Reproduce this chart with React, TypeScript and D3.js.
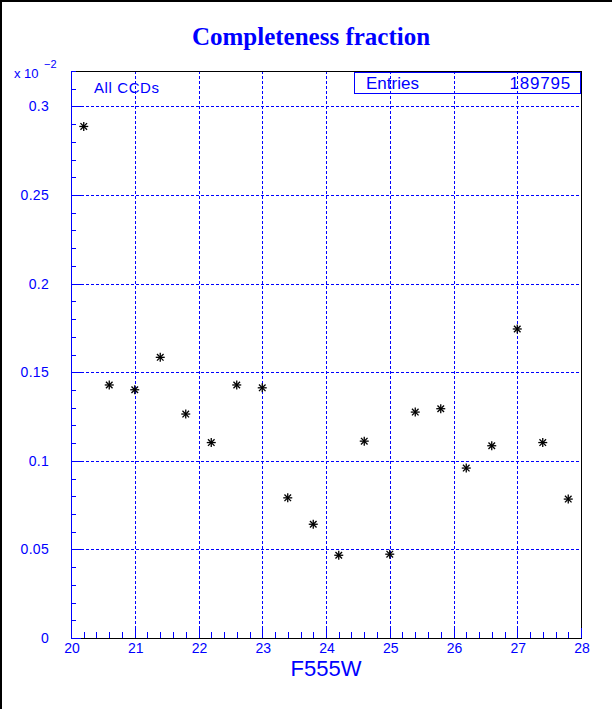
import * as d3 from "d3";

// bin centres (F555W magnitude) and completeness fraction (x 10^-2)
const binCenters = [20.2, 20.6, 21.0, 21.4, 21.8, 22.2, 22.6, 23.0, 23.4, 23.8, 24.2, 24.6, 25.0, 25.4, 25.8, 26.2, 26.6, 27.0, 27.4, 27.8];
const fraction = [0.2887, 0.1428, 0.1401, 0.1584, 0.1264, 0.1103, 0.1428, 0.1412, 0.0791, 0.0642, 0.0467, 0.1111, 0.0473, 0.1275, 0.1294, 0.0959, 0.1085, 0.1744, 0.1103, 0.0784];

const xTicks = [20, 21, 22, 23, 24, 25, 26, 27, 28];
const yTicks = [0, 0.05, 0.1, 0.15, 0.2, 0.25, 0.3];
const yTickLabels = ["0", "0.05", "0.1", "0.15", "0.2", "0.25", "0.3"];

const W = 612;
const H = 709;
const blue = "#0000ff";
const font = "'Liberation Sans', Arial, sans-serif";

export default function App() {
  const x = d3.scaleLinear().domain([20, 28]).range([71, 581]);
  const y = d3.scaleLinear().domain([0, 0.32]).range([638, 71]);

  const xMinor = d3.range(20, 28.001, 0.2).filter((v) => Math.abs(v - Math.round(v)) > 1e-6);
  const yMinor = d3.range(0, 0.3201, 0.01).filter((v) => Math.abs(v / 0.05 - Math.round(v / 0.05)) > 1e-6);

  const [x0, x1] = x.range();
  const [y0, y1] = y.range();
  const py = (v: number) => Math.round(y(v)) + 0.5;
  const px = (v: number) => Math.round(x(v)) + 0.5;

  return (
    <svg width={W} height={H} style={{ position: "absolute", left: 0, top: 0, background: "#fff" }}>
      <rect x={0} y={0} width={W} height={H} fill="#fff" />
      {/* canvas border */}
      <line x1={0} y1={1} x2={W} y2={1} stroke="#000" strokeWidth={2} />
      <line x1={1} y1={0} x2={1} y2={H} stroke="#000" strokeWidth={2} />

      <text x={311} y={45} textAnchor="middle" fontFamily="'Liberation Serif', 'Times New Roman', serif" fontWeight="bold" fontSize={25} fill={blue}>
        Completeness fraction
      </text>

      {/* grid */}
      <g stroke={blue} strokeWidth={1} strokeDasharray="3,2" shapeRendering="crispEdges">
        {xTicks.slice(1, -1).map((t) => (
          <line key={"gx" + t} x1={px(t)} x2={px(t)} y1={y1} y2={y0} />
        ))}
        {yTicks.slice(1).map((t) => (
          <line key={"gy" + t} x1={x0} x2={x1} y1={py(t)} y2={py(t)} />
        ))}
      </g>

      {/* frame */}
      <g shapeRendering="crispEdges" strokeWidth={1}>
        <line x1={x0} x2={x1} y1={y1 + 0.5} y2={y1 + 0.5} stroke="#000" />
        <line x1={x1 + 0.5} x2={x1 + 0.5} y1={y1} y2={y0} stroke="#000" />
        <line x1={x0} x2={x1 + 1} y1={y0 + 0.5} y2={y0 + 0.5} stroke="#000" />
        <line x1={x0 + 0.5} x2={x0 + 0.5} y1={y1} y2={y0} stroke={blue} />
      </g>

      {/* ticks */}
      <g stroke={blue} strokeWidth={1} shapeRendering="crispEdges">
        {xTicks.map((t) => (
          <line key={"tx" + t} x1={px(t)} x2={px(t)} y1={y0} y2={y0 - 10} />
        ))}
        {xMinor.map((t) => (
          <line key={"mx" + t} x1={px(t)} x2={px(t)} y1={y0} y2={y0 - 6} />
        ))}
        {yTicks.map((t) => (
          <line key={"ty" + t} x1={x0} x2={x0 + 10} y1={py(t)} y2={py(t)} />
        ))}
        {yMinor.map((t) => (
          <line key={"my" + t} x1={x0} x2={x0 + 5} y1={py(t)} y2={py(t)} />
        ))}
      </g>

      {/* tick labels */}
      <g fill={blue} fontFamily={font} fontSize={14}>
        {xTicks.map((t) => (
          <text key={"lx" + t} x={x(t) + 1} y={653} textAnchor="middle">
            {t}
          </text>
        ))}
        {yTicks.map((t, i) => (
          <text key={"ly" + t} x={49} y={y(t) + 5} textAnchor="end" letterSpacing={0.3}>
            {yTickLabels[i]}
          </text>
        ))}
        <text x={14} y={78} fontSize={13}>x 10</text>
        <text x={44} y={68} fontSize={11}>−2</text>
      </g>

      <text x={326} y={676} textAnchor="middle" fill={blue} fontFamily={font} fontSize={22}>
        F555W
      </text>

      <text x={94} y={93} fill={blue} fontFamily={font} fontSize={15} letterSpacing={0.6}>
        All CCDs
      </text>

      {/* stats box */}
      <rect x={354.5} y={72.5} width={226} height={21} fill="none" stroke={blue} strokeWidth={1} shapeRendering="crispEdges" />
      <text x={366} y={89} fill={blue} fontFamily={font} fontSize={17}>Entries</text>
      <text x={571} y={89} textAnchor="end" fill={blue} fontFamily={font} fontSize={17} letterSpacing={0.8}>189795</text>

      {/* markers */}
      <g stroke="#000" strokeWidth={1.3}>
        {binCenters.map((c, i) => {
          const cx = x(c);
          const cy = y(fraction[i]);
          const r = 4.5;
          const d = 3.3;
          return (
            <g key={"p" + i}>
              <line x1={cx - r} x2={cx + r} y1={cy} y2={cy} />
              <line x1={cx} x2={cx} y1={cy - r} y2={cy + r} />
              <line x1={cx - d} x2={cx + d} y1={cy - d} y2={cy + d} />
              <line x1={cx - d} x2={cx + d} y1={cy + d} y2={cy - d} />
            </g>
          );
        })}
      </g>
    </svg>
  );
}
